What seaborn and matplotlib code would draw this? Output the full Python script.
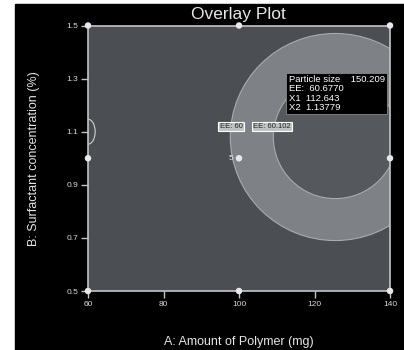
import matplotlib
matplotlib.use("Agg")
import matplotlib.pyplot as plt
from matplotlib.patches import Ellipse, Rectangle
import seaborn as sns
import pandas as pd

# ---- data ----
design_A = [60, 60, 60, 100, 100, 140, 140, 140, 100]
design_B = [0.5, 1.0, 1.5, 0.5, 1.5, 0.5, 1.0, 1.5, 1.0]
center_label = "5"
center_point = (100, 1.0)

ring_center = (125.5, 1.08)
outer_radius = (27.8, 0.39)   # (A, B) half-widths
inner_radius = (16.4, 0.232)
small_center = (60, 1.10)
small_radius = (1.9, 0.047)

contour_labels = ["EE: 60", "EE: 60.102"]
contour_label_A = [97.9, 108.7]
contour_label_B = [1.119, 1.119]

flag_A = 112.643
flag_B = 1.13779
flag_lines = ["Particle size    150.209", "EE:  60.6770", "X1  112.643", "X2  1.13779"]

x_ticks = [60, 80, 100, 120, 140]
y_ticks = [0.5, 0.7, 0.9, 1.1, 1.3, 1.5]
y_tick_labels = ["0.5", "0.7", "0.9", "1.1", "1.3", "1.5"]

title = "Overlay Plot"
xlabel = "A: Amount of Polymer (mg)"
ylabel = "B: Surfactant concentration (%)"

# ---- style ----
sns.set_style("dark")
plt.rcParams["font.family"] = ["Liberation Sans", "DejaVu Sans"]

BG = "#4b4e53"
RING = "#7e8185"
INNER = "#55595e"
LINE = "#c4c4c4"
TXT = "#e6e6e6"

fig = plt.figure(figsize=(4.04, 3.5), dpi=100, facecolor="white")
fig.patches.append(Rectangle((15 / 404, 0), 1 - 15 / 404, 346 / 350,
                             transform=fig.transFigure, color="black", zorder=-10))
ax = fig.add_axes([88 / 404, 1 - 291 / 350, 302 / 404, 265.5 / 350])
ax.set_facecolor(BG)

ax.add_patch(Ellipse(ring_center, 2 * outer_radius[0], 2 * outer_radius[1],
                     facecolor=RING, edgecolor="#a9acaf", lw=0.8, zorder=1))
ax.add_patch(Ellipse(ring_center, 2 * inner_radius[0], 2 * inner_radius[1],
                     facecolor=INNER, edgecolor="#a9acaf", lw=0.8, zorder=2))
ax.add_patch(Ellipse(small_center, 2 * small_radius[0], 2 * small_radius[1],
                     facecolor="none", edgecolor="#d0d0d0", lw=0.8, zorder=2))

df = pd.DataFrame({"A": design_A, "B": design_B})
sns.scatterplot(data=df, x="A", y="B", ax=ax, color="#e8e8e8", s=22,
                edgecolor="none", zorder=5, clip_on=False, legend=False)
ax.annotate(center_label, center_point, xytext=(-6, 0), textcoords="offset points",
            ha="center", va="center", fontsize=6, color=TXT, zorder=6)

for lab, a, b in zip(contour_labels, contour_label_A, contour_label_B):
    ax.text(a, b, lab, fontsize=5.5, color="#222222", ha="center", va="center", zorder=6,
            bbox=dict(boxstyle="square,pad=0.15", facecolor="#bfc1c3", edgecolor="white", lw=0.8))

ax.annotate("\n".join(flag_lines), (flag_A, flag_B), xytext=(1.5, 7),
            textcoords="offset points", ha="left", va="bottom", fontsize=6.8,
            color="white", linespacing=1.05, zorder=7,
            bbox=dict(boxstyle="square,pad=0.25", facecolor="black", edgecolor="#888888", lw=0.6))

ax.set_xlim(60, 140)
ax.set_ylim(0.5, 1.5)
ax.set_xticks(x_ticks)
ax.set_xticklabels([str(v) for v in x_ticks])
ax.set_yticks(y_ticks)
ax.set_yticklabels(y_tick_labels)
ax.tick_params(axis="both", direction="out", length=5, width=1, color=LINE,
               labelsize=6, labelcolor="#d8d8d8", pad=2, bottom=True, left=True)
ax.grid(False)
for s in ax.spines.values():
    s.set_visible(True)
    s.set_color(LINE)
    s.set_linewidth(1.2)

ax.set_xlabel(xlabel, fontsize=9, color=TXT, labelpad=20)
ax.set_ylabel(ylabel, fontsize=9, color=TXT, labelpad=19)
fig.text(238 / 404, 1 - 14 / 350, title, ha="center", va="center", fontsize=12.5, color=TXT)

fig.savefig("out.png", dpi=100, facecolor="white")
